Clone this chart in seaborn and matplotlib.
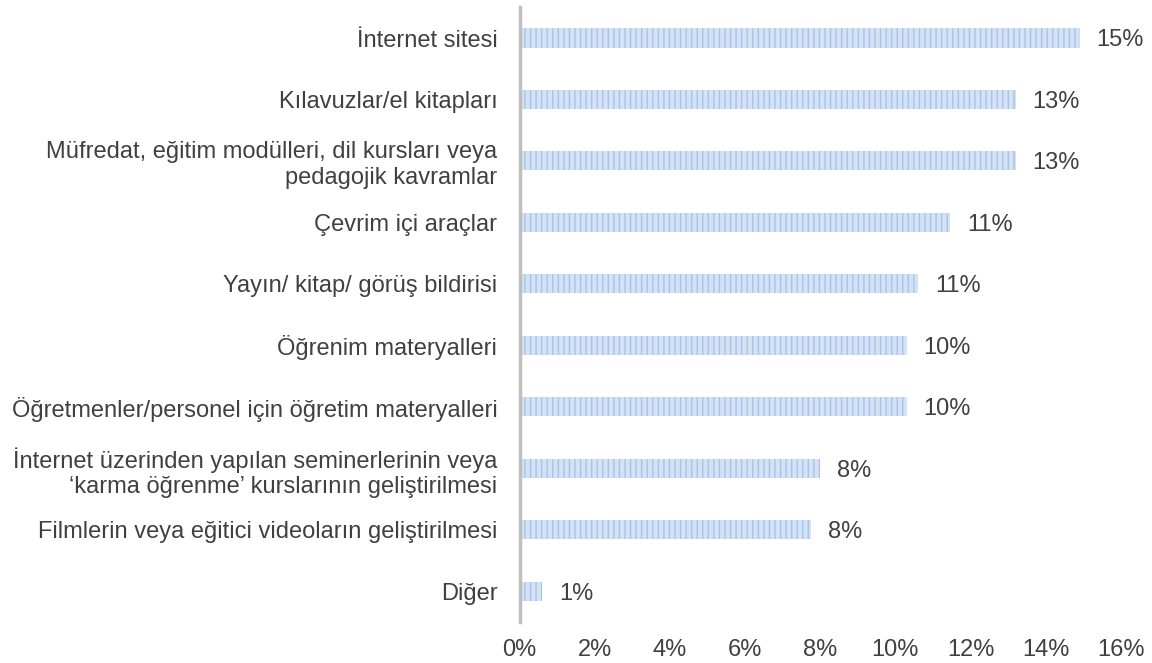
import numpy as np
import pandas as pd
import matplotlib
matplotlib.use("Agg")
import matplotlib.pyplot as plt
import seaborn as sns

# data
categories = [
    "İnternet sitesi",
    "Kılavuzlar/el kitapları",
    "Müfredat, eğitim modülleri, dil kursları veya\npedagojik kavramlar",
    "Çevrim içi araçlar",
    "Yayın/ kitap/ görüş bildirisi",
    "Öğrenim materyalleri",
    "Öğretmenler/personel için öğretim materyalleri",
    "İnternet üzerinden yapılan seminerlerinin veya\n‘karma öğrenme’ kurslarının geliştirilmesi",
    "Filmlerin veya eğitici videoların geliştirilmesi",
    "Diğer",
]
shares = [14.9, 13.2, 13.2, 11.45, 10.6, 10.3, 10.3, 8.0, 7.75, 0.6]
xticks = [0, 2, 4, 6, 8, 10, 12, 14, 16]

df = pd.DataFrame({"cat": categories, "share": shares})

sns.set_style("white")
plt.rcParams['font.family'] = ['Liberation Sans', 'DejaVu Sans']
plt.rcParams['hatch.linewidth'] = 1.0

fig = plt.figure(figsize=(11.52, 6.63), dpi=100)
ax = fig.add_axes([0.451, 0.062, 0.522, 0.927])

sns.barplot(data=df, x="share", y="cat", orient="h", color="#d3e2f5",
            width=0.31, ax=ax, saturation=1)
for p in ax.patches:
    p.set_hatch("|||")
    p.set_edgecolor("#a9c3e8")
    p.set_linewidth(0)

for i, v in enumerate(shares):
    ax.text(v + 0.45, i + 0.04, f"{v:.0f}%", va="center", ha="left",
            fontsize=17, color="#404040")

ax.set_xlim(0, 16)
ax.set_ylim(9.5, -0.5)
ax.set_xticks(xticks)
ax.set_xticklabels([f"{t}%" for t in xticks])
ax.set_xlabel("")
ax.set_ylabel("")
ax.tick_params(axis="both", length=0, labelsize=17, colors="#404040")
ax.tick_params(axis="y", pad=16)
ax.tick_params(axis="x", pad=12)
for s in ["top", "right", "bottom"]:
    ax.spines[s].set_visible(False)
ax.spines["left"].set_color("#bfbfbf")
ax.spines["left"].set_linewidth(2.5)

plt.savefig("out.png", dpi=100)
